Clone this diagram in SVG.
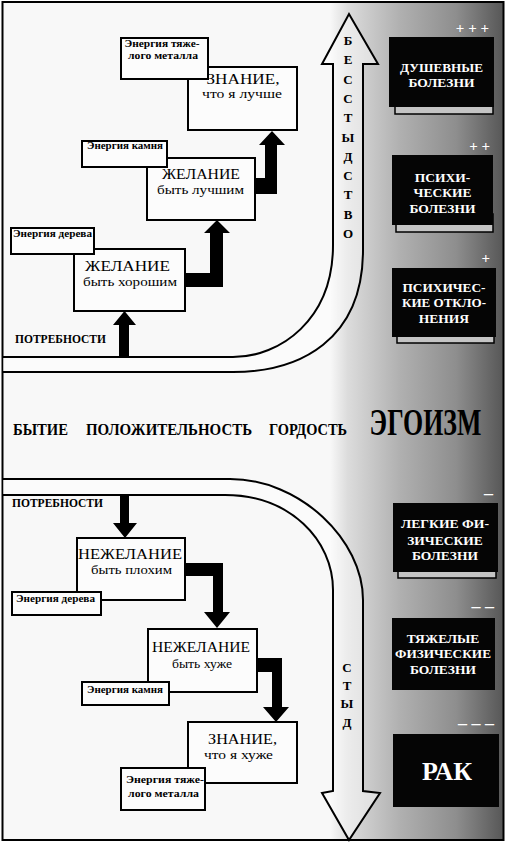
<svg xmlns="http://www.w3.org/2000/svg" width="507" height="843" viewBox="0 0 507 843">
<defs>
<linearGradient id="bg" gradientUnits="userSpaceOnUse" x1="330" y1="0" x2="505" y2="0">
<stop offset="0" stop-color="#f8f8f8"/>
<stop offset="0.1" stop-color="#dcdcdc"/>
<stop offset="0.4" stop-color="#b0b0b0"/>
<stop offset="0.72" stop-color="#8e8e8e"/>
<stop offset="1" stop-color="#555555"/>
</linearGradient>
<style>
.box{fill:#fcfcfc;stroke:#000;stroke-width:2}
.dark{fill:#050505}
.shadow{fill:#c4c4c4;stroke:#000;stroke-width:1.5}
.band{fill:#ffffff;fill-opacity:0.45;stroke:#000;stroke-width:2;stroke-linejoin:miter}
.arr{fill:#000}
.t{fill:#000;text-anchor:middle}
.big{font-size:15.5px}
.mid{font-size:13px}
.lab{font-size:10.5px;font-weight:bold}
.b{font-weight:bold}
.w{font-weight:bold;fill:#fff;text-anchor:middle;font-size:13.5px}
.sign{font-weight:bold;fill:#fff;text-anchor:end}
</style>
</defs>
<rect x="2.5" y="2" width="501" height="838" fill="url(#bg)" stroke="#000" stroke-width="2"/>

<g font-family="Liberation Serif, Times New Roman, serif">
<g id="axes">
<path class="band" d="M3,372 H233 C300,372 363,340 363,250 V64 L378,64 L349,14 L322,64 L333,64 V245 C333,320 280,357 233,357 H3"/>
<path class="band" d="M3,479 H230 C300,479 363,540 363,600 V791 L380,793 L349,840 L322,793 L333,791 V590 C333,540 290,495 225,495 H3"/>
<text class="t b" font-size="13"><tspan x="348" y="45">Б</tspan><tspan x="348" y="64.3">Е</tspan><tspan x="348" y="83.6">С</tspan><tspan x="348" y="102.9">С</tspan><tspan x="348" y="122.2">Т</tspan><tspan x="348" y="141.5">Ы</tspan><tspan x="348" y="160.8">Д</tspan><tspan x="348" y="180.1">С</tspan><tspan x="348" y="199.4">Т</tspan><tspan x="348" y="218.7">В</tspan><tspan x="348" y="238">О</tspan></text>
<text class="t b" font-size="13"><tspan x="347" y="672">С</tspan><tspan x="347" y="690">Т</tspan><tspan x="347" y="708">Ы</tspan><tspan x="347" y="727">Д</tspan></text>
</g>

<g id="connectors">
<polygon class="arr" points="119,357 119,325 113,325 124.5,311 136,325 129,325 129,357"/>
<polygon class="arr" points="185,273 210,273 210,233 204,233 217,220 230,233 223,233 223,287 185,287"/>
<polygon class="arr" points="255,178 265,178 265,145 259,145 272,131 285,145 277,145 277,194 255,194"/>
<polygon class="arr" points="120,495 129,495 129,523 137,523 125,538 113,523 120,523"/>
<polygon class="arr" points="185,563 223,563 223,612 230,612 217,628 204,612 213,612 213,576 185,576"/>
<polygon class="arr" points="257,658 282,658 282,707 289,707 276,722 263,707 272,707 272,672 257,672"/>
</g>

<g id="label-needs-top"><text class="t b" font-size="11.5" x="60.5" y="343" textLength="91" lengthAdjust="spacingAndGlyphs">ПОТРЕБНОСТИ</text></g>
<g id="label-needs-bottom"><text class="t b" font-size="11.5" x="57.5" y="507" textLength="91" lengthAdjust="spacingAndGlyphs">ПОТРЕБНОСТИ</text></g>

<g id="axis-row">
<text class="t b" font-size="17" x="40.5" y="435" textLength="55" lengthAdjust="spacingAndGlyphs">БЫТИЕ</text>
<text class="t b" font-size="17" x="169" y="435" textLength="166" lengthAdjust="spacingAndGlyphs">ПОЛОЖИТЕЛЬНОСТЬ</text>
<text class="t b" font-size="17" x="308" y="435" textLength="78" lengthAdjust="spacingAndGlyphs">ГОРДОСТЬ</text>
<text class="t b" font-size="37" transform="translate(425.5,435) scale(0.7,1)" x="0" y="0">ЭГОИЗМ</text>
</g>

<!-- upper nodes -->
<g id="node-know-better">
<rect class="box" x="188" y="67" width="109" height="63"/>
<text class="t big" x="243" y="83.5" textLength="73" lengthAdjust="spacingAndGlyphs">ЗНАНИЕ,</text>
<text class="t mid" x="242" y="98" textLength="80" lengthAdjust="spacingAndGlyphs">что я лучше</text>
</g>
<g id="node-energy-metal-top">
<rect class="box" x="121" y="38" width="87" height="41"/>
<text class="t lab" x="162" y="47" textLength="75" lengthAdjust="spacingAndGlyphs">Энергия тяже-</text>
<text class="t lab" x="163" y="59" textLength="70" lengthAdjust="spacingAndGlyphs">лого металла</text>
</g>
<g id="node-want-better">
<rect class="box" x="147" y="158" width="108" height="62"/>
<text class="t big" x="201" y="179" textLength="78" lengthAdjust="spacingAndGlyphs">ЖЕЛАНИЕ</text>
<text class="t mid" x="200.5" y="194" textLength="87" lengthAdjust="spacingAndGlyphs">быть лучшим</text>
</g>
<g id="node-energy-stone-top">
<rect class="box" x="82" y="141" width="85" height="26"/>
<text class="t lab" x="125" y="149" textLength="76" lengthAdjust="spacingAndGlyphs">Энергия камня</text>
</g>
<g id="node-want-good">
<rect class="box" x="74" y="249" width="111" height="62"/>
<text class="t big" x="127.5" y="271" textLength="85" lengthAdjust="spacingAndGlyphs">ЖЕЛАНИЕ</text>
<text class="t mid" x="130" y="286" textLength="94" lengthAdjust="spacingAndGlyphs">быть хорошим</text>
</g>
<g id="node-energy-wood-top">
<rect class="box" x="11" y="228" width="83" height="26"/>
<text class="t lab" x="52.5" y="237" textLength="79" lengthAdjust="spacingAndGlyphs">Энергия дерева</text>
</g>

<!-- lower nodes -->
<g id="node-nowant-bad">
<rect class="box" x="77" y="538" width="108" height="62"/>
<text class="t big" x="130" y="559" textLength="104" lengthAdjust="spacingAndGlyphs">НЕЖЕЛАНИЕ</text>
<text class="t mid" x="131.5" y="574" textLength="81" lengthAdjust="spacingAndGlyphs">быть плохим</text>
</g>
<g id="node-energy-wood-bottom">
<rect class="box" x="12" y="592" width="89" height="23"/>
<text class="t lab" x="55.5" y="602" textLength="79" lengthAdjust="spacingAndGlyphs">Энергия дерева</text>
</g>
<g id="node-nowant-worse">
<rect class="box" x="148" y="629" width="109" height="63"/>
<text class="t big" x="201" y="652" textLength="98" lengthAdjust="spacingAndGlyphs">НЕЖЕЛАНИЕ</text>
<text class="t mid" x="202" y="668" textLength="60" lengthAdjust="spacingAndGlyphs">быть хуже</text>
</g>
<g id="node-energy-stone-bottom">
<rect class="box" x="82" y="682" width="87" height="23"/>
<text class="t lab" x="125" y="693" textLength="76" lengthAdjust="spacingAndGlyphs">Энергия камня</text>
</g>
<g id="node-know-worse">
<rect class="box" x="188" y="722" width="109" height="61"/>
<text class="t big" x="242.5" y="744" textLength="69" lengthAdjust="spacingAndGlyphs">ЗНАНИЕ,</text>
<text class="t mid" x="238.5" y="759" textLength="69" lengthAdjust="spacingAndGlyphs">что я хуже</text>
</g>
<g id="node-energy-metal-bottom">
<rect class="box" x="121" y="768" width="84" height="42"/>
<text class="t lab" x="165" y="783" textLength="78" lengthAdjust="spacingAndGlyphs">Энергия тяже-</text>
<text class="t lab" x="163.5" y="797" textLength="71" lengthAdjust="spacingAndGlyphs">лого металла</text>
</g>

<!-- right disease boxes -->
<g id="node-soul-diseases">
<text class="sign" font-size="15" x="489" y="33">+ + +</text>
<rect class="shadow" x="395" y="96" width="98" height="18"/>
<rect class="dark" x="389" y="37" width="105" height="70"/>
<text class="w" x="441.5" y="72" textLength="83" lengthAdjust="spacingAndGlyphs">ДУШЕВНЫЕ</text>
<text class="w" x="441.5" y="87">БОЛЕЗНИ</text>
</g>
<g id="node-mental-diseases">
<text class="sign" font-size="15" x="490" y="151">+ +</text>
<rect class="shadow" x="396" y="214" width="97" height="18"/>
<rect class="dark" x="392" y="155" width="101" height="70"/>
<text class="w" x="442.5" y="182">ПСИХИ-</text>
<text class="w" x="442.5" y="197">ЧЕСКИЕ</text>
<text class="w" x="442.5" y="213">БОЛЕЗНИ</text>
</g>
<g id="node-mental-deviations">
<text class="sign" font-size="15" x="490" y="263">+</text>
<rect class="shadow" x="397" y="325" width="97" height="18"/>
<rect class="dark" x="392" y="268" width="104" height="69"/>
<text class="w" x="444" y="292" textLength="83" lengthAdjust="spacingAndGlyphs">ПСИХИЧЕС-</text>
<text class="w" x="444" y="307" textLength="84" lengthAdjust="spacingAndGlyphs">КИЕ ОТКЛО-</text>
<text class="w" x="444" y="323">НЕНИЯ</text>
</g>
<g id="node-light-physical">
<text class="sign" font-size="18" x="493" y="499">–</text>
<rect class="shadow" x="398" y="560" width="98" height="18"/>
<rect class="dark" x="393" y="503" width="105" height="69"/>
<text class="w" x="445" y="528" textLength="88" lengthAdjust="spacingAndGlyphs">ЛЕГКИЕ ФИ-</text>
<text class="w" x="445" y="545">ЗИЧЕСКИЕ</text>
<text class="w" x="445" y="560">БОЛЕЗНИ</text>
</g>
<g id="node-heavy-physical">
<text class="sign" font-size="18" x="494" y="612">– –</text>
<rect class="dark" x="392" y="618" width="103" height="72"/>
<text class="w" x="443" y="643">ТЯЖЕЛЫЕ</text>
<text class="w" x="443" y="658" textLength="96" lengthAdjust="spacingAndGlyphs">ФИЗИЧЕСКИЕ</text>
<text class="w" x="443" y="674">БОЛЕЗНИ</text>
</g>
<g id="node-cancer">
<text class="sign" font-size="18" x="494" y="729">– – –</text>
<rect class="dark" x="393" y="734" width="106" height="73"/>
<text class="w" style="font-size:25px" x="447" y="780" textLength="50" lengthAdjust="spacingAndGlyphs">РАК</text>
</g>
</g>
</svg>
